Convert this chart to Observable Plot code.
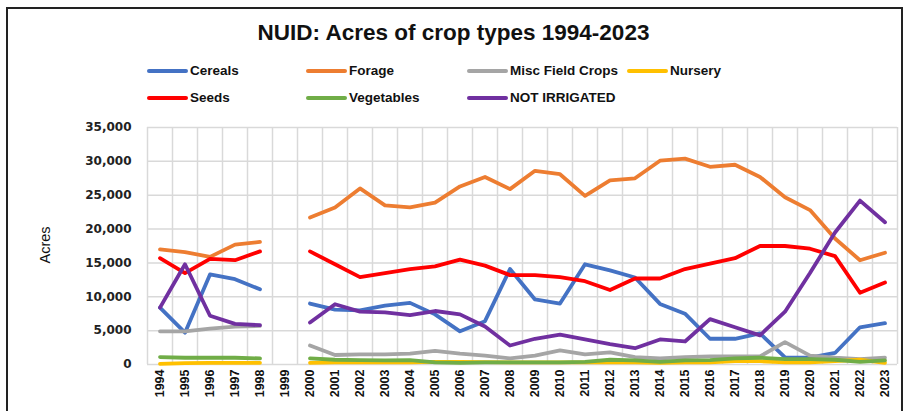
<!DOCTYPE html>
<html>
<head>
<meta charset="utf-8">
<script src="https://cdn.jsdelivr.net/npm/d3@7"></script>
<script src="https://cdn.jsdelivr.net/npm/@observablehq/plot@0.6"></script>
<style>
  html, body { margin: 0; padding: 0; background: #fff; }
  body { width: 907px; height: 411px; position: relative; overflow: hidden; font-family: "Liberation Sans", Arial, sans-serif; }
  #frame { position: absolute; left: 6px; top: 7px; width: 897px; height: 410px; border: 2px solid #222; box-sizing: border-box; }
  #title { position: absolute; left: 0; width: 907px; top: 20px; text-align: center; font-weight: bold; font-size: 22.5px; color: #111; }
  .leg { position: absolute; font-weight: bold; font-size: 13.5px; color: #111; white-space: nowrap; display: flex; align-items: center; }
  .leg .sw { display: inline-block; width: 41px; height: 4px; border-radius: 2px; margin-right: 2px; }
  #ylab { position: absolute; left: 45px; top: 245px; transform: translate(-50%, -50%) rotate(-90deg); font-size: 14.5px; color: #111; }
  #chart { position: absolute; left: 0; top: 115px; }
</style>
</head>
<body>
<div id="frame"></div>
<div id="title">NUID: Acres of crop types 1994-2023</div>
<div id="legend"></div>
<div id="ylab">Acres</div>
<div id="chart"></div>
<script>
const years = [1994,1995,1996,1997,1998,1999,2000,2001,2002,2003,2004,2005,2006,2007,2008,2009,2010,2011,2012,2013,2014,2015,2016,2017,2018,2019,2020,2021,2022,2023];
const seriesNames = ["Cereals","Forage","Misc Field Crops","Nursery","Seeds","Vegetables","NOT IRRIGATED"];
const seriesColors = ["#4472C4","#ED7D31","#A5A5A5","#FFC000","#FF0000","#70AD47","#7030A0"];
const cereals  = [8400,4700,13300,12600,11100,null,9000,8100,8000,8700,9100,7400,4900,6400,14100,9600,9000,14800,13900,12850,8950,7500,3800,3800,4600,1050,1000,1700,5500,6100];
const forage   = [17000,16600,15900,17700,18100,null,21700,23200,26000,23500,23200,23900,26300,27700,25900,28600,28100,24900,27200,27500,30100,30400,29200,29500,27700,24700,22800,18600,15400,16500];
const misc     = [4900,4900,5300,5600,5700,null,2800,1400,1500,1500,1600,2000,1600,1300,900,1300,2100,1500,1800,1100,900,1100,1200,1200,1200,3300,1300,1000,800,1000];
const nursery  = [100,200,250,250,250,null,250,300,300,300,300,400,400,350,300,300,300,300,350,300,250,300,300,500,500,300,300,500,700,250];
const seeds    = [15700,13500,15600,15400,16700,null,16700,14800,12900,13500,14100,14500,15500,14600,13200,13200,12900,12300,11000,12700,12700,14100,14900,15700,17500,17500,17100,16000,10600,12100];
const vegetables = [1100,1000,1000,1000,900,null,900,700,650,600,650,300,250,300,300,300,300,400,700,600,400,600,650,900,1000,800,800,700,400,600];
const notIrrigated = [8400,14800,7200,6000,5800,null,6200,8900,7800,7700,7300,7900,7400,5600,2800,3800,4400,3700,3000,2400,3700,3400,6700,5500,4300,7800,13500,19500,24200,21000];
const yTicks = [0,5000,10000,15000,20000,25000,30000,35000];

const seriesValues = [cereals, forage, misc, nursery, seeds, vegetables, notIrrigated];
const data = [];
seriesNames.forEach((name, i) => {
  years.forEach((yr, j) => data.push({series: name, year: yr, value: seriesValues[i][j]}));
});

// legend
const legPos = [[147,71],[306,71],[467,71],[627,71],[147,98],[306,98],[467,98]];
const legend = document.getElementById("legend");
seriesNames.forEach((name, i) => {
  const d = document.createElement("div");
  d.className = "leg";
  d.style.left = legPos[i][0] + "px";
  d.style.top = (legPos[i][1] - 8) + "px";
  d.innerHTML = `<span class="sw" style="background:${seriesColors[i]}"></span><span>${name}</span>`;
  legend.appendChild(d);
});

const boundaries = years.map(y => y - 0.5).concat([years[years.length - 1] + 0.5]);

const plot = Plot.plot({
  width: 907,
  height: 296,
  marginLeft: 147,
  marginRight: 10,
  marginTop: 12,
  marginBottom: 47,
  x: {type: "linear", domain: [boundaries[0], boundaries[boundaries.length - 1]]},
  y: {domain: [0, 35000]},
  color: {domain: seriesNames, range: seriesColors},
  marks: [
    Plot.ruleX(boundaries, {x: d => d, stroke: "#d9d9d9", strokeWidth: 1.5}),
    Plot.ruleY(yTicks, {y: d => d, stroke: "#d9d9d9", strokeWidth: 1.5}),
    Plot.axisX({ticks: years, tickFormat: d => String(d), tickRotate: -90, tickSize: 0, tickPadding: 5, label: null, fontWeight: "bold", fontSize: 12.5, fontFamily: "Liberation Sans, Arial, sans-serif", fill: "#111"}),
    Plot.axisY({ticks: yTicks, tickFormat: d3.format(","), tickSize: 0, tickPadding: 16, label: null, fontWeight: "bold", fontSize: 12, fontFamily: "DejaVu Sans, Verdana, sans-serif", fill: "#222"}),
    ...seriesNames.map(name => Plot.line(data.filter(d => d.series === name), {
      x: "year", y: "value", stroke: "series", strokeWidth: 3.8, strokeLinejoin: "round", strokeLinecap: "round"
    }))
  ]
});
document.getElementById("chart").appendChild(plot);
</script>
</body>
</html>
